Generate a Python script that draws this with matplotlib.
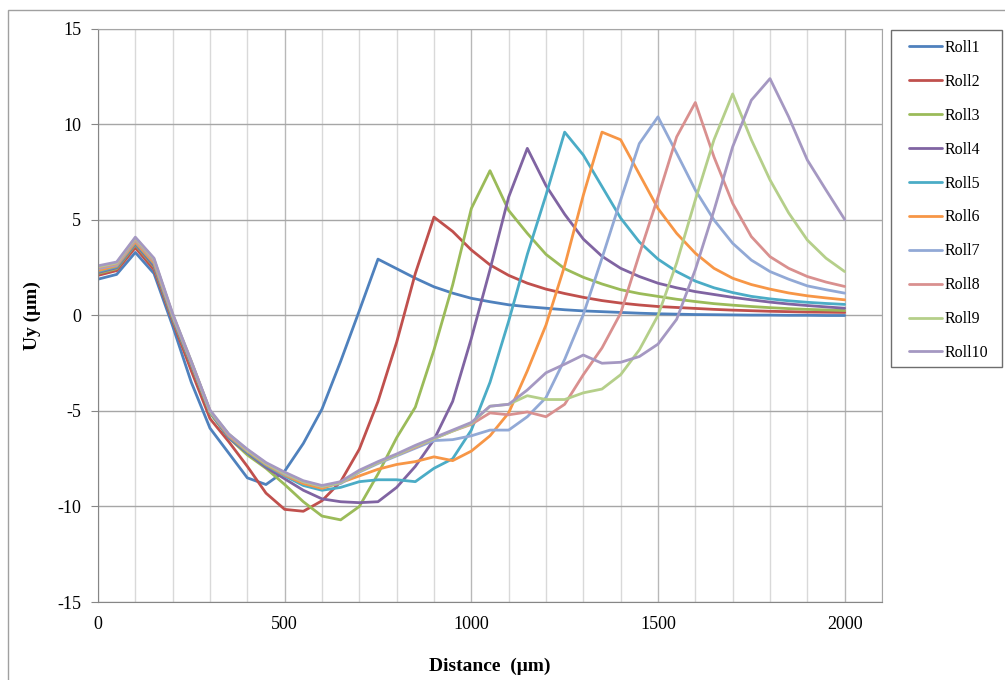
import matplotlib.pyplot as plt
from matplotlib.patches import Rectangle

# distance along the surface (um), sampled every 50 um
distance = list(range(0, 2001, 50))

roll1 = [1.9, 2.15, 3.3, 2.2, -0.55, -3.5, -5.9, -7.2, -8.5, -8.85, -8.15, -6.7, -4.9, -2.4, 0.25,
         2.95, 2.45, 1.95, 1.5, 1.17, 0.9, 0.72, 0.56, 0.46, 0.38, 0.3, 0.24, 0.2, 0.16, 0.12,
         0.09, 0.07, 0.05, 0.04, 0.03, 0.02, 0.02, 0.01, 0.01, 0.0, 0.0]
roll2 = [2.1, 2.35, 3.55, 2.4, -0.3, -2.9, -5.4, -6.6, -7.9, -9.3, -10.15, -10.25, -9.7, -8.7, -7.0,
         -4.5, -1.4, 2.2, 5.15, 4.4, 3.43, 2.65, 2.1, 1.69, 1.38, 1.15, 0.95, 0.78, 0.65, 0.55,
         0.47, 0.42, 0.37, 0.32, 0.28, 0.25, 0.22, 0.2, 0.18, 0.17, 0.16]
roll3 = [2.2, 2.45, 3.7, 2.55, -0.2, -2.6, -5.1, -6.4, -7.3, -8.0, -8.85, -9.75, -10.5, -10.7, -10.0,
         -8.3, -6.4, -4.8, -1.8, 1.6, 5.6, 7.58, 5.5, 4.3, 3.2, 2.45, 2.0, 1.65, 1.35, 1.15,
         1.0, 0.85, 0.73, 0.62, 0.54, 0.47, 0.41, 0.36, 0.32, 0.29, 0.26]
roll4 = [2.25, 2.5, 3.75, 2.6, -0.15, -2.55, -5.05, -6.4, -7.2, -7.95, -8.55, -9.15, -9.6, -9.75, -9.8,
         -9.75, -9.0, -7.9, -6.5, -4.5, -1.2, 2.4, 6.2, 8.75, 6.8, 5.3, 4.0, 3.1, 2.47, 2.04,
         1.69, 1.45, 1.25, 1.1, 0.95, 0.82, 0.7, 0.6, 0.52, 0.45, 0.38]
roll5 = [2.3, 2.55, 3.8, 2.7, -0.1, -2.5, -5.05, -6.35, -7.15, -7.85, -8.4, -8.9, -9.15, -9.0, -8.7,
         -8.6, -8.6, -8.7, -8.0, -7.5, -6.0, -3.5, -0.3, 3.2, 6.3, 9.6, 8.4, 6.75, 5.1, 3.85,
         2.95, 2.3, 1.8, 1.45, 1.2, 1.0, 0.87, 0.77, 0.69, 0.63, 0.58]
roll6 = [2.35, 2.6, 3.85, 2.75, -0.05, -2.45, -5.0, -6.3, -7.1, -7.8, -8.35, -8.8, -9.05, -8.75, -8.4,
         -8.05, -7.8, -7.65, -7.4, -7.6, -7.1, -6.3, -5.1, -2.9, -0.5, 2.6, 6.3, 9.6, 9.2, 7.4,
         5.6, 4.3, 3.26, 2.47, 1.95, 1.62, 1.38, 1.18, 1.03, 0.92, 0.82]
roll7 = [2.45, 2.65, 3.95, 2.85, 0.0, -2.45, -5.0, -6.25, -7.05, -7.75, -8.3, -8.7, -8.95, -8.8, -8.2,
         -7.75, -7.35, -6.95, -6.55, -6.5, -6.3, -6.0, -6.0, -5.3, -4.3, -2.3, 0.05, 3.0, 6.05, 9.0,
         10.4, 8.5, 6.57, 5.0, 3.78, 2.9, 2.3, 1.9, 1.55, 1.35, 1.17]
roll8 = [2.5, 2.7, 4.0, 2.9, 0.05, -2.45, -5.0, -6.25, -7.05, -7.75, -8.25, -8.7, -8.95, -8.75, -8.15,
         -7.7, -7.3, -6.9, -6.45, -6.05, -5.7, -5.1, -5.2, -5.05, -5.3, -4.65, -3.1, -1.7, 0.12, 3.2,
         6.2, 9.35, 11.15, 8.3, 5.87, 4.13, 3.08, 2.47, 2.04, 1.75, 1.52]
roll9 = [2.55, 2.75, 4.05, 2.95, 0.05, -2.4, -5.0, -6.2, -7.05, -7.75, -8.25, -8.7, -8.95, -8.75, -8.15,
         -7.7, -7.3, -6.85, -6.45, -6.05, -5.65, -4.75, -4.65, -4.2, -4.4, -4.4, -4.05, -3.85, -3.1, -1.8,
         0.0, 2.75, 6.05, 9.2, 11.6, 9.2, 7.1, 5.37, 3.95, 3.0, 2.3]
roll10 = [2.6, 2.8, 4.1, 3.0, 0.1, -2.4, -4.95, -6.2, -7.0, -7.7, -8.2, -8.65, -8.9, -8.7, -8.1,
          -7.65, -7.25, -6.8, -6.4, -6.0, -5.6, -4.75, -4.65, -3.9, -3.0, -2.55, -2.07, -2.5, -2.45, -2.15,
          -1.5, -0.2, 2.4, 5.5, 8.83, 11.27, 12.4, 10.4, 8.14, 6.57, 5.03]

series = [roll1, roll2, roll3, roll4, roll5, roll6, roll7, roll8, roll9, roll10]
labels = ["Roll1", "Roll2", "Roll3", "Roll4", "Roll5", "Roll6", "Roll7", "Roll8", "Roll9", "Roll10"]
colors = ["#4F81BD", "#C0504D", "#9BBB59", "#8064A2", "#4BACC6",
          "#F79646", "#92A9D6", "#D9908F", "#B5CF8A", "#A598C2"]

plt.rcParams['font.family'] = ['Liberation Serif', 'DejaVu Serif']
plt.rcParams['axes.unicode_minus'] = False

fig = plt.figure(figsize=(10.05, 6.8), dpi=100)
ax = fig.add_axes([0.0975, 0.1147, 0.7801, 0.8427])

for y, lab, c in zip(series, labels, colors):
    ax.plot(distance, y, color=c, lw=2.0, label=lab, solid_joinstyle='round', solid_capstyle='round')

ax.set_xlim(0, 2100)
ax.set_ylim(-15, 15)
ax.set_xticks([0, 500, 1000, 1500, 2000])
ax.set_xticks(range(0, 2101, 100), minor=True)
ax.set_yticks(range(-15, 16, 5))
ax.set_axisbelow(True)
ax.grid(which='minor', axis='x', color='#D9D9D9', lw=1)
ax.grid(which='major', axis='x', color='#B8B8B8', lw=1)
ax.grid(which='major', axis='y', color='#A6A6A6', lw=1)
ax.tick_params(axis='x', which='both', length=0, pad=10, labelsize=13)
ax.tick_params(axis='y', length=5, color='#868686', pad=7, labelsize=13)
for side in ['top', 'right']:
    ax.spines[side].set_color('#A6A6A6')
for side in ['left', 'bottom']:
    ax.spines[side].set_color('#868686')

ax.set_xlabel("Distance  (\u03bcm)", fontsize=14, fontweight='bold', labelpad=18)
ax.set_ylabel("Uy (\u03bcm)", fontsize=14, fontweight='bold', labelpad=12)

# legend box drawn separately so the entries can sit inside it like in Excel
fig.patches.append(Rectangle((891 / 1005, 1 - 367 / 680), 111 / 1005, 337 / 680,
                             transform=fig.transFigure, fill=False, edgecolor='#6E6E6E', lw=1))
ax.legend(loc='upper left', bbox_to_anchor=(909 / 1005, 1 - 40 / 680),
          bbox_transform=fig.transFigure, borderaxespad=0, borderpad=0,
          fontsize=11.5, handlelength=2.05, handletextpad=0.15, labelspacing=1.12,
          frameon=False)

# outer chart border
fig.patches.append(Rectangle((8 / 1005, -0.05), 1.1, 1 - 10 / 680 + 0.05, transform=fig.transFigure,
                             fill=False, edgecolor='#A0A0A0', lw=1))

fig.savefig("out.png", dpi=100)
